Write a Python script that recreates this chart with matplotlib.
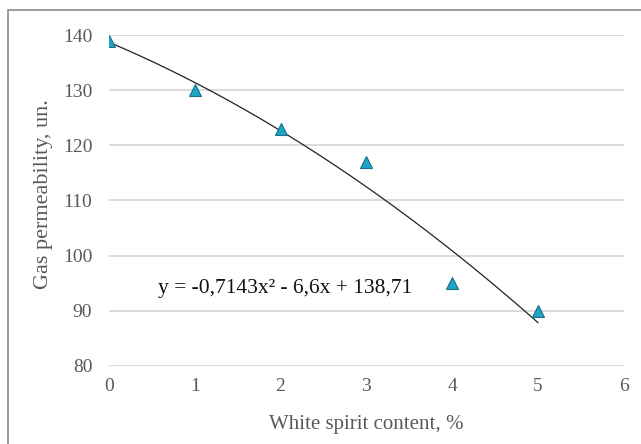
import matplotlib.pyplot as plt
import numpy as np
from matplotlib.patches import Rectangle

# gas permeability vs white spirit content
content = [0, 1, 2, 3, 4, 5]
permeability = [139, 130, 123, 117, 95, 90]
# quadratic trend coefficients (a, b, c)
coef = [-0.7143, -6.6, 138.71]
x_ticks = [0, 1, 2, 3, 4, 5, 6]
y_ticks = [80, 90, 100, 110, 120, 130, 140]

plt.rcParams['font.family'] = ['Liberation Serif', 'DejaVu Serif']

fig = plt.figure(figsize=(6.41, 4.44), dpi=100)
ax = fig.add_axes([0.170, 0.176, 0.803, 0.745])

# outer frame of the chart
fig.patches.append(Rectangle((8/641, -0.1), 1.2, 1.1 - 10/444,
                             transform=fig.transFigure, fill=False,
                             edgecolor='#8c8c8c', linewidth=1.2))

xs = np.linspace(content[0], content[-1], 200)
ax.plot(xs, np.polyval(coef, xs), color='#222222', linewidth=0.9, zorder=2)
ax.plot(content, permeability, linestyle='none', marker='^', markersize=8.5,
        markerfacecolor='#1fa3c4', markeredgecolor='#1b6f8a',
        markeredgewidth=0.8, zorder=3)

ax.text(0.57, 94.1, 'y = -0,7143x² - 6,6x + 138,71', fontsize=15.5,
        color='#111111', va='center')

ax.set_xlim(0, 6)
ax.set_ylim(80, 140)
ax.set_xticks(x_ticks)
ax.set_yticks(y_ticks)
ax.grid(axis='y', color='#d9d9d9', linewidth=1.3)
ax.set_axisbelow(True)
for s in ax.spines.values():
    s.set_visible(False)
ax.tick_params(length=0, labelsize=14, labelcolor='#595959')
ax.tick_params(axis='y', pad=12)
ax.tick_params(axis='x', pad=9)
ax.set_xlabel('White spirit content, %', fontsize=15, color='#595959',
              labelpad=14)
ax.set_ylabel('Gas permeability, un.', fontsize=16, color='#595959')
ax.yaxis.set_label_coords(-0.109, 0.52)

fig.savefig('out.png', dpi=100)
